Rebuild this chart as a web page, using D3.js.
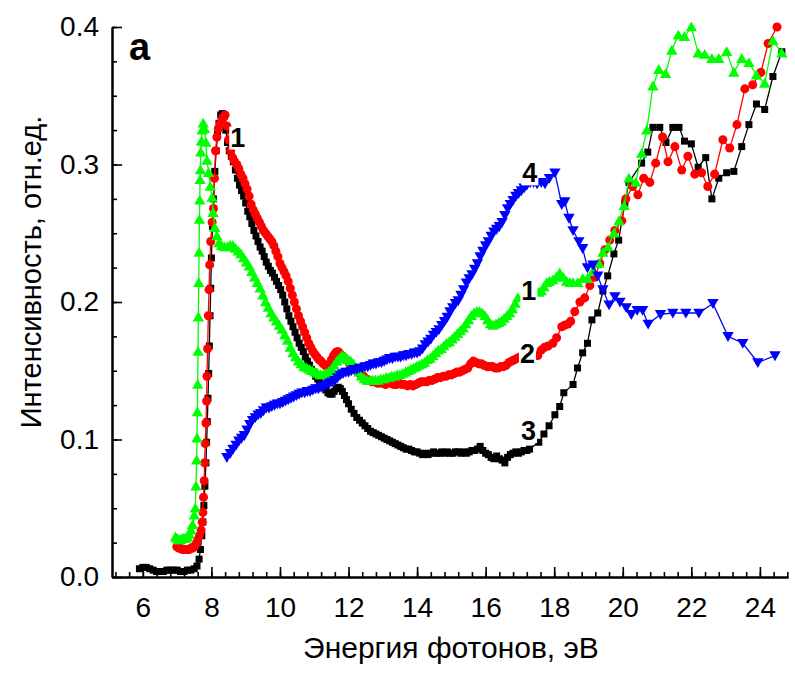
<!DOCTYPE html>
<html><head><meta charset="utf-8">
<script src="https://cdn.jsdelivr.net/npm/d3@7"></script>
<style>body{margin:0;background:#fff}svg{display:block}text{font-family:"Liberation Sans",Arial,sans-serif}</style>
</head><body><svg id="c" width="795" height="675"></svg>
<script>
// Series 3 (black squares): [energy eV, intensity]
const series3 = [[5.90,.006],[6.00,.007],[6.10,.007],[6.20,.006],[6.30,.005],[6.40,.004],[6.50,.004],[6.60,.004],[6.70,.005],[6.80,.005],[6.90,.005],[7.00,.005],[7.10,.004],[7.20,.004],[7.30,.005],[7.40,.005],[7.50,.006],[7.58,.008],[7.64,.013],[7.68,.02],[7.72,.03],[7.75,.04],[7.78,.052],[7.81,.066],[7.84,.083],[7.86,.098],[7.88,.113],[7.90,.13],[7.92,.148],[7.94,.168],[7.96,.19],[7.98,.21],[8.00,.232],[8.03,.255],[8.06,.275],[8.10,.295],[8.14,.31],[8.18,.322],[8.22,.33],[8.27,.336],[8.32,.337],[8.37,.335],[8.42,.325],[8.47,.316],[8.52,.31],[8.58,.306],[8.64,.302],[8.70,.296],[8.76,.29],[8.82,.285],[8.88,.281],[8.94,.277],[9.00,.272],[9.06,.266],[9.12,.262],[9.18,.257],[9.24,.252],[9.30,.248],[9.36,.244],[9.42,.24],[9.48,.237],[9.54,.233],[9.60,.229],[9.66,.226],[9.72,.223],[9.78,.221],[9.84,.218],[9.90,.215],[9.96,.212],[10.02,.209],[10.08,.205],[10.14,.2],[10.20,.195],[10.26,.19],[10.32,.186],[10.38,.182],[10.44,.178],[10.50,.174],[10.56,.17],[10.62,.167],[10.68,.164],[10.74,.16],[10.80,.157],[10.86,.154],[10.92,.151],[10.98,.149],[11.04,.146],[11.10,.144],[11.16,.142],[11.22,.14],[11.28,.138],[11.34,.136],[11.40,.134],[11.46,.133],[11.52,.133],[11.58,.135],[11.64,.137],[11.70,.138],[11.76,.137],[11.82,.135],[11.88,.132],[11.94,.129],[12.00,.126],[12.08,.122],[12.16,.119],[12.24,.116],[12.32,.114],[12.40,.112],[12.48,.11],[12.56,.108],[12.64,.106],[12.72,.105],[12.80,.104],[12.88,.103],[12.96,.102],[13.04,.101],[13.12,.1],[13.20,.099],[13.28,.098],[13.36,.097],[13.44,.096],[13.52,.095],[13.60,.094],[13.68,.093],[13.76,.093],[13.84,.092],[13.92,.091],[14.00,.091],[14.08,.09],[14.16,.089],[14.24,.09],[14.32,.089],[14.40,.09],[14.48,.091],[14.56,.09],[14.64,.09],[14.72,.091],[14.80,.09],[14.88,.091],[14.96,.09],[15.04,.09],[15.12,.091],[15.20,.091],[15.28,.09],[15.36,.091],[15.44,.09],[15.52,.091],[15.60,.092],[15.68,.092],[15.76,.093],[15.84,.095],[15.92,.092],[16.00,.09],[16.08,.089],[16.16,.087],[16.24,.086],[16.32,.088],[16.40,.086],[16.48,.085],[16.56,.083],[16.64,.087],[16.72,.089],[16.80,.09],[16.88,.091],[16.96,.09],[17.04,.091],[17.12,.092],[17.20,.092],[17.28,.093],[17.55,.098],[17.70,.104],[17.85,.11],[18.02,.118],[18.16,.124],[18.28,.134],[18.55,.14],[18.68,.152],[18.83,.163],[18.97,.17],[19.10,.187],[19.27,.192],[19.42,.208],[19.56,.219],[19.74,.235],[19.88,.245],[20.06,.272],[20.18,.287],[20.55,.301],[20.73,.309],[20.88,.327],[21.08,.327],[21.26,.316],[21.46,.327],[21.64,.327],[21.80,.317],[22.00,.315],[22.20,.298],[22.42,.305],[22.60,.275],[22.80,.29],[23.03,.294],[23.24,.295],[23.47,.313],[23.68,.329],[23.90,.344],[24.14,.34],[24.38,.364],[24.64,.382]];

// Series 2 (red circles)
const series2 = [[6.99,.022],[7.05,.021],[7.10,.021],[7.15,.02],[7.20,.02],[7.25,.02],[7.30,.02],[7.35,.02],[7.40,.021],[7.45,.021],[7.50,.022],[7.55,.024],[7.60,.027],[7.65,.03],[7.70,.034],[7.73,.04],[7.75,.047],[7.77,.058],[7.79,.07],[7.80,.083],[7.82,.097],[7.84,.112],[7.86,.128],[7.87,.146],[7.89,.166],[7.91,.19],[7.93,.209],[7.95,.227],[7.98,.244],[8.02,.258],[8.06,.268],[8.09,.29],[8.12,.31],[8.16,.32],[8.20,.326],[8.26,.33],[8.33,.334],[8.40,.336],[8.45,.328],[8.50,.318],[8.56,.31],[8.62,.305],[8.68,.302],[8.74,.3],[8.80,.297],[8.86,.293],[8.92,.29],[8.98,.286],[9.04,.282],[9.10,.277],[9.16,.271],[9.22,.267],[9.28,.264],[9.34,.261],[9.40,.258],[9.46,.255],[9.52,.252],[9.58,.25],[9.64,.248],[9.70,.246],[9.76,.244],[9.82,.241],[9.88,.237],[9.94,.233],[10.00,.228],[10.06,.225],[10.12,.222],[10.18,.219],[10.24,.215],[10.30,.21],[10.36,.205],[10.42,.2],[10.48,.195],[10.54,.19],[10.60,.186],[10.66,.182],[10.72,.178],[10.78,.174],[10.84,.17],[10.90,.167],[10.96,.164],[11.02,.162],[11.08,.16],[11.14,.158],[11.20,.157],[11.26,.155],[11.32,.154],[11.38,.153],[11.44,.155],[11.50,.158],[11.56,.161],[11.62,.163],[11.68,.164],[11.74,.163],[11.80,.161],[11.86,.16],[11.92,.158],[11.98,.157],[12.04,.155],[12.12,.153],[12.20,.151],[12.28,.149],[12.36,.147],[12.44,.146],[12.52,.144],[12.60,.143],[12.68,.142],[12.76,.142],[12.84,.141],[12.92,.141],[13.00,.141],[13.08,.14],[13.16,.141],[13.24,.141],[13.32,.14],[13.40,.14],[13.48,.141],[13.56,.14],[13.64,.14],[13.72,.139],[13.80,.14],[13.88,.139],[13.96,.14],[14.04,.141],[14.12,.142],[14.20,.142],[14.28,.142],[14.36,.143],[14.44,.143],[14.52,.144],[14.60,.145],[14.68,.145],[14.76,.146],[14.84,.146],[14.92,.147],[15.00,.147],[15.08,.148],[15.16,.149],[15.24,.149],[15.32,.15],[15.40,.151],[15.48,.152],[15.56,.155],[15.64,.157],[15.72,.156],[15.80,.155],[15.88,.155],[15.96,.154],[16.04,.153],[16.12,.153],[16.20,.153],[16.28,.152],[16.36,.152],[16.44,.153],[16.52,.153],[16.60,.154],[16.68,.156],[16.76,.157],[16.84,.158],[16.92,.159],[17.00,.16],[17.52,.161],[17.62,.165],[17.72,.167],[17.82,.168],[17.96,.17],[18.07,.174],[18.22,.182],[18.30,.183],[18.40,.184],[18.48,.186],[18.60,.193],[18.75,.2],[18.89,.203],[19.04,.212],[19.18,.218],[19.33,.228],[19.48,.238],[19.62,.245],[19.77,.252],[19.97,.259],[20.09,.275],[20.29,.284],[20.44,.278],[20.61,.29],[20.79,.287],[20.96,.301],[21.16,.32],[21.32,.302],[21.52,.313],[21.72,.296],[21.90,.306],[22.10,.293],[22.30,.294],[22.48,.284],[22.68,.293],[22.92,.318],[23.12,.312],[23.33,.329],[23.56,.355],[23.79,.358],[24.03,.367],[24.24,.388],[24.50,.4]];

// Series 1 (green up-triangles)
const series1 = [[6.95,.029],[7.00,.028],[7.05,.027],[7.10,.027],[7.15,.028],[7.20,.028],[7.25,.028],[7.30,.029],[7.35,.031],[7.40,.034],[7.45,.038],[7.50,.045],[7.53,.05],[7.55,.066],[7.57,.085],[7.58,.101],[7.59,.12],[7.60,.14],[7.61,.164],[7.62,.189],[7.63,.214],[7.64,.236],[7.65,.26],[7.66,.274],[7.67,.289],[7.68,.296],[7.69,.309],[7.71,.317],[7.73,.325],[7.76,.33],[7.80,.326],[7.84,.316],[7.87,.303],[7.92,.294],[7.97,.284],[8.02,.276],[8.05,.265],[8.10,.254],[8.16,.248],[8.22,.243],[8.30,.241],[8.38,.24],[8.46,.24],[8.54,.241],[8.62,.241],[8.70,.239],[8.78,.237],[8.86,.235],[8.94,.232],[9.02,.229],[9.10,.226],[9.18,.222],[9.26,.218],[9.34,.214],[9.42,.21],[9.50,.205],[9.58,.2],[9.66,.196],[9.74,.192],[9.82,.189],[9.90,.186],[9.98,.183],[10.06,.18],[10.14,.176],[10.22,.172],[10.30,.167],[10.38,.163],[10.46,.16],[10.54,.157],[10.62,.155],[10.70,.153],[10.78,.152],[10.86,.151],[10.94,.15],[11.02,.149],[11.10,.148],[11.18,.147],[11.26,.147],[11.34,.148],[11.42,.149],[11.50,.151],[11.58,.154],[11.66,.157],[11.74,.159],[11.82,.161],[11.90,.16],[11.98,.158],[12.06,.157],[12.14,.155],[12.22,.152],[12.30,.149],[12.38,.146],[12.46,.144],[12.54,.143],[12.62,.143],[12.70,.143],[12.78,.143],[12.86,.143],[12.94,.144],[13.02,.144],[13.10,.145],[13.18,.145],[13.26,.146],[13.34,.146],[13.42,.147],[13.50,.147],[13.58,.148],[13.66,.149],[13.74,.15],[13.82,.151],[13.90,.152],[13.98,.153],[14.06,.154],[14.14,.155],[14.22,.156],[14.30,.158],[14.38,.159],[14.46,.161],[14.54,.163],[14.62,.165],[14.70,.166],[14.78,.168],[14.86,.17],[14.94,.171],[15.02,.173],[15.10,.175],[15.18,.177],[15.26,.179],[15.34,.181],[15.42,.184],[15.50,.187],[15.58,.19],[15.66,.192],[15.74,.193],[15.82,.193],[15.90,.192],[15.98,.19],[16.06,.187],[16.14,.184],[16.22,.183],[16.30,.184],[16.38,.185],[16.46,.186],[16.54,.188],[16.62,.19],[16.70,.192],[16.78,.195],[16.86,.199],[16.94,.203],[17.55,.207],[17.62,.208],[17.70,.211],[17.78,.214],[17.86,.215],[17.96,.216],[18.06,.218],[18.16,.221],[18.26,.218],[18.36,.215],[18.46,.214],[18.55,.214],[18.69,.214],[18.83,.217],[18.97,.217],[19.12,.222],[19.30,.228],[19.42,.236],[19.57,.24],[19.74,.25],[19.89,.259],[20.04,.27],[20.18,.29],[20.38,.287],[20.55,.308],[20.70,.325],[20.88,.357],[21.05,.369],[21.25,.366],[21.43,.383],[21.62,.394],[21.80,.393],[22.00,.4],[22.20,.381],[22.39,.38],[22.60,.377],[22.80,.377],[23.03,.382],[23.24,.367],[23.47,.377],[23.68,.374],[23.90,.365],[24.14,.359],[24.38,.39],[24.64,.381]];

// Series 4 (blue down-triangles)
const series4 = [[8.45,.087],[8.55,.09],[8.63,.093],[8.72,.096],[8.80,.099],[8.88,.101],[8.96,.103],[9.04,.107],[9.12,.111],[9.20,.114],[9.28,.116],[9.36,.118],[9.44,.119],[9.52,.121],[9.60,.123],[9.68,.123],[9.76,.124],[9.84,.125],[9.92,.126],[10.00,.126],[10.08,.127],[10.16,.128],[10.24,.129],[10.32,.13],[10.40,.131],[10.48,.132],[10.56,.133],[10.64,.134],[10.72,.134],[10.80,.135],[10.88,.135],[10.96,.136],[11.04,.137],[11.12,.137],[11.20,.138],[11.28,.139],[11.36,.14],[11.44,.141],[11.52,.142],[11.60,.143],[11.68,.145],[11.76,.147],[11.84,.148],[11.92,.149],[12.00,.149],[12.08,.15],[12.16,.151],[12.24,.151],[12.32,.152],[12.40,.152],[12.48,.153],[12.56,.153],[12.64,.154],[12.72,.155],[12.80,.155],[12.88,.156],[12.96,.156],[13.04,.157],[13.12,.158],[13.20,.159],[13.28,.159],[13.36,.16],[13.44,.16],[13.52,.16],[13.60,.161],[13.68,.161],[13.76,.162],[13.84,.162],[13.92,.163],[14.00,.163],[14.08,.164],[14.16,.166],[14.24,.169],[14.32,.171],[14.40,.173],[14.48,.176],[14.56,.178],[14.64,.18],[14.72,.183],[14.80,.186],[14.88,.189],[14.96,.193],[15.04,.196],[15.12,.199],[15.20,.201],[15.28,.205],[15.36,.209],[15.44,.214],[15.52,.217],[15.60,.22],[15.68,.224],[15.76,.228],[15.84,.233],[15.92,.237],[16.00,.241],[16.08,.244],[16.16,.248],[16.24,.251],[16.32,.253],[16.40,.255],[16.48,.258],[16.56,.263],[16.64,.268],[16.72,.271],[16.80,.274],[16.88,.277],[16.96,.279],[17.04,.281],[17.12,.283],[17.20,.285],[17.30,.287],[17.40,.287],[17.50,.286],[17.62,.287],[17.73,.286],[17.86,.29],[18.02,.294],[18.22,.271],[18.31,.273],[18.43,.261],[18.55,.252],[18.72,.244],[18.83,.239],[18.97,.225],[19.13,.227],[19.27,.219],[19.42,.209],[19.60,.198],[19.77,.204],[19.92,.2],[20.10,.196],[20.25,.191],[20.42,.194],[20.58,.194],[20.74,.184],[21.10,.191],[21.46,.192],[21.84,.192],[22.22,.192],[22.63,.199],[23.07,.175],[23.50,.17],[23.94,.156],[24.44,.161]];

const xTickValues = [6, 8, 10, 12, 14, 16, 18, 20, 22, 24];
const yTickValues = [0.0, 0.1, 0.2, 0.3, 0.4];
const curveLabels = [
  {text: "1", E: 8.77, v: 0.313},
  {text: "4", E: 17.29, v: 0.287},
  {text: "1", E: 17.26, v: 0.2015},
  {text: "2", E: 17.22, v: 0.156},
  {text: "3", E: 17.25, v: 0.0996}
];
const panelLabel = "a";
const xTitle = "Энергия фотонов, эВ";
const yTitle = "Интенсивность, отн.ед.";

const svg = d3.select("#c");
const x = d3.scaleLinear().domain([5.1, 24.82]).range([112, 788]);
const y = d3.scaleLinear().domain([0, 0.4]).range([577, 27]);

const line = d3.line().x(d => x(d[0])).y(d => y(d[1]));
const seriesDefs = [
  {data: series3, color: "#000000", sym: d3.symbolSquare, size: 49, rot: 0},
  {data: series2, color: "#ff0000", sym: d3.symbolCircle, size: 64, rot: 0},
  {data: series1, color: "#00ff00", sym: d3.symbolTriangle, size: 56, rot: 0},
  {data: series4, color: "#0000ff", sym: d3.symbolTriangle, size: 56, rot: 180}
];
const plot = svg.append("g");
seriesDefs.forEach(s => {
  plot.append("path").datum(s.data).attr("d", line).attr("fill", "none")
    .attr("stroke", s.color).attr("stroke-width", 1.3);
  const sym = d3.symbol().type(s.sym).size(s.size);
  plot.append("g").selectAll("path").data(s.data).join("path")
    .attr("d", sym)
    .attr("transform", d => `translate(${x(d[0])},${y(d[1]) + (s.sym === d3.symbolTriangle ? (s.rot ? -1 : 1) : 0)}) rotate(${s.rot})`)
    .attr("fill", s.color);
});

// curve labels with white boxes
curveLabels.forEach(l => {
  const g = svg.append("g");
  const t = g.append("text").attr("x", x(l.E)).attr("y", y(l.v)).attr("text-anchor", "middle")
    .attr("font-size", 27).attr("font-weight", "bold").text(l.text);
  const bb = t.node().getBBox();
  g.insert("rect", "text").attr("x", bb.x - 1).attr("y", bb.y + 4).attr("width", bb.width + 2)
    .attr("height", bb.height - 7).attr("fill", "#fff");
});

// axes
const xMinor = d3.range(5.2, 24.85, 0.4).map(v => +v.toFixed(2));
const yMinor = d3.range(0, 0.4001, 0.025).map(v => +v.toFixed(3));
const xAxisMinor = d3.axisBottom(x).tickValues(xMinor).tickSize(-5).tickFormat("").tickSizeOuter(0);
const xAxisMajor = d3.axisBottom(x).tickValues(xTickValues).tickSize(-10).tickPadding(20).tickFormat(d3.format("d")).tickSizeOuter(0);
const yAxisMinor = d3.axisLeft(y).tickValues(yMinor).tickSize(-5).tickFormat("").tickSizeOuter(0);
const yAxisMajor = d3.axisLeft(y).tickValues(yTickValues).tickSize(-10).tickPadding(13).tickFormat(d3.format(".1f")).tickSizeOuter(0);

function styleAxis(g) {
  g.selectAll(".domain").attr("stroke", "#000").attr("stroke-width", 2);
  g.selectAll(".tick line").attr("stroke", "#000").attr("stroke-width", 1.6);
  g.selectAll(".tick text").attr("font-size", 28).attr("fill", "#000")
   .attr("font-family", "'Liberation Sans', Arial, sans-serif");
}
svg.append("g").attr("transform", "translate(0,577)").call(xAxisMinor).call(styleAxis);
svg.append("g").attr("transform", "translate(0,577)").call(xAxisMajor).call(styleAxis);
svg.append("g").attr("transform", "translate(112,0)").call(yAxisMinor).call(styleAxis);
svg.append("g").attr("transform", "translate(112,0)").call(yAxisMajor).call(styleAxis);

svg.append("text").attr("x", 451).attr("y", 658).attr("text-anchor", "middle")
  .attr("font-size", 30).text(xTitle);
svg.append("text").attr("transform", "translate(41,272) rotate(-90)").attr("text-anchor", "middle")
  .attr("font-size", 29).text(yTitle);
svg.append("text").attr("x", 129).attr("y", 60).attr("font-size", 38).attr("font-weight", "bold").text(panelLabel);
</script></body></html>
